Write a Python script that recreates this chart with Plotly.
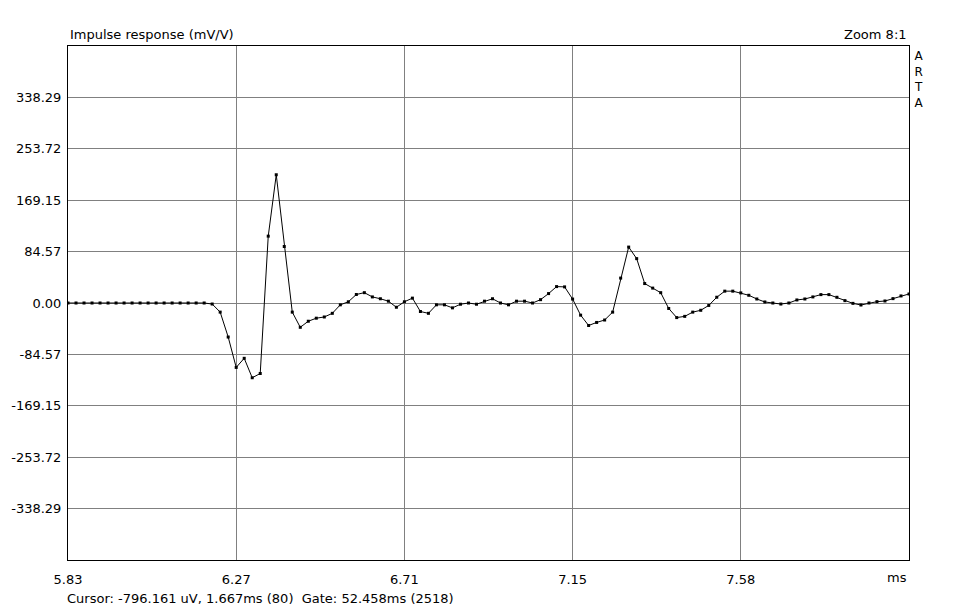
import numpy as np
import plotly.graph_objects as go

# ARTA impulse response, zoomed window
t_start = 5.8325          # ms
sample_ms = 1.0 / 48.0    # 48 kHz sampling
impulse_mv = [
    0, 0, 0, 0, 0, 0, 0, 0, 0, 0, 0, 0, 0, 0, 0, 0, 0, 0,
    -1.7, -15, -56, -106, -91, -123, -116, 110, 211, 93, -15, -40,
    -30, -25, -23, -17, -3, 2, 14, 17, 10, 7, 3, -7, 2, 8, -14, -17,
    -3, -3, -8, -2, 0, -2, 3, 7, 0, -3, 3, 3, 0, 5.5, 15.5, 27, 26.5,
    6.5, -20, -37, -32, -28, -15, 41, 92, 73, 32, 24.5, 17, -9, -24,
    -22, -15, -12, -4, 9.5, 19.5, 19.5, 16.6, 12.7, 6.6, 1.7, 0, -1.7,
    0, 5, 6.6, 10, 13.8, 13.8, 9.4, 3.9, -0.6, -3.3, 0, 2.2, 3.3, 7.2,
    11.6, 14.9,
]
x_ticktext = ["5.83", "6.27", "6.71", "7.15", "7.58"]
y_step = 84.5725
y_ticktext = ["-338.29", "-253.72", "-169.15", "-84.57", "0.00",
              "84.57", "169.15", "253.72", "338.29"]

t = t_start + np.arange(len(impulse_mv)) * sample_ms
t_end = t[-1]
div = (t_end - t_start) / 5
x_tickvals = [t_start + k * div for k in range(5)]
y_tickvals = [k * y_step for k in range(-4, 5)]

W, H = 957, 611
L, R, T, B = 68, 909, 46, 560


def px(x):
    return (x - L) / (R - L)


def py(y):
    return (B - y) / (B - T)


font = dict(family="DejaVu Sans, Arial, sans-serif", size=13, color="black")

trace = go.Scatter(
    x=t, y=impulse_mv,
    mode="lines+markers",
    line=dict(color="black", width=1),
    marker=dict(symbol="square", size=3, color="black"),
    showlegend=False,
    hoverinfo="x+y")

axis_common = dict(showline=True, linecolor="black", linewidth=1, mirror=True,
                   showgrid=True, gridcolor="#808080", gridwidth=1,
                   zeroline=False, ticks="", tickfont=font)

layout = go.Layout(
    width=W, height=H,
    margin=dict(l=L, r=W - R, t=T, b=H - B, pad=0),
    paper_bgcolor="white", plot_bgcolor="white",
    font=font,
    xaxis=dict(range=[t_start, t_end], tickmode="array",
               tickvals=x_tickvals, ticktext=x_ticktext,
               ticklabelstandoff=7, **axis_common),
    yaxis=dict(range=[-5 * y_step, 5 * y_step], tickmode="array",
               tickvals=y_tickvals, ticktext=y_ticktext,
               ticklabelstandoff=3, **axis_common),
    annotations=[
        dict(text="Impulse response (mV/V)", xref="paper", yref="paper",
             x=px(68), y=py(34), xanchor="left", yanchor="middle",
             showarrow=False, font=font),
        dict(text="Zoom 8:1", xref="paper", yref="paper",
             x=px(909), y=py(34), xanchor="right", yanchor="middle",
             showarrow=False, font=font),
        dict(text="A<br>R<br>T<br>A", xref="paper", yref="paper",
             x=px(919), y=py(47), xanchor="center", yanchor="top",
             showarrow=False, font=dict(font, size=12)),
        dict(text="ms", xref="paper", yref="paper",
             x=px(897), y=py(577), xanchor="center", yanchor="middle",
             showarrow=False, font=font),
        dict(text="Cursor: -796.161 uV, 1.667ms (80)  Gate: 52.458ms (2518)",
             xref="paper", yref="paper",
             x=px(65), y=py(598), xanchor="left", yanchor="middle",
             showarrow=False, font=font),
    ])

fig = go.Figure(data=[trace], layout=layout)
fig.write_html("out.html", config={"displayModeBar": False},
               post_script="document.body.style.margin='0';")
